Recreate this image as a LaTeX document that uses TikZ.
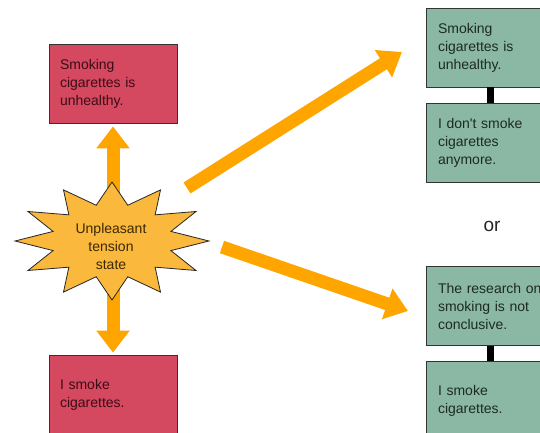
\documentclass[tikz,border=0pt]{standalone}
\usepackage{fontspec}
\newfontfamily\boxfont{Liberation Sans}
\usetikzlibrary{arrows.meta}
\definecolor{redbox}{RGB}{212,72,96}
\definecolor{redtext}{RGB}{60,12,22}
\definecolor{greenbox}{RGB}{138,184,164}
\definecolor{greentext}{RGB}{28,42,36}
\definecolor{arroworange}{RGB}{255,165,0}
\definecolor{starfill}{RGB}{250,184,60}
\definecolor{startext}{RGB}{58,40,5}
\begin{document}
\begin{tikzpicture}[x=1pt,y=-1pt,
  boxbase/.style={draw=black!80, line width=0.8pt, minimum width=128pt, minimum height=79pt,
    align=left, inner ysep=0pt, font=\boxfont\fontsize{14}{18}\selectfont},
  redstyle/.style={boxbase, fill=redbox, text=redtext, text width=106pt, inner xsep=11pt},
  greenstyle/.style={boxbase, fill=greenbox, text=greentext, text width=104pt, inner xsep=12pt},
  bigarrow/.style={draw=arroworange, line width=13pt, -{Triangle[length=22pt,width=31pt]}},
  bigdouble/.style={draw=arroworange, line width=13pt, {Triangle[length=22pt,width=32pt]}-{Triangle[length=22pt,width=32pt]}},
  linkbar/.style={draw=black, line width=7pt}]
\useasboundingbox (0,0) rectangle (540,433);
\clip (0,0) rectangle (540,433);
\fill[white] (0,0) rectangle (540,433);

% left column
\node[redstyle] (r1) at (113,83.5) {Smoking\\cigarettes is\\unhealthy.};
\node[redstyle] (r2) at (113,394.5) {I smoke\\cigarettes.};
\draw[bigdouble, shorten <=3pt, shorten >=2pt] (r1) -- (r2);

% star
\coordinate (star) at (112,241);
\draw[fill=starfill, draw=black!85, line width=0.8pt, shift={(112,241)}]
  (90:97 and 59) \foreach \i in {0,...,11} { -- ({90+\i*30+15}:61 and 37) -- ({90+\i*30+30}:97 and 59) } -- cycle;
\node[font=\boxfont\fontsize{14}{18}\selectfont, align=center, text=startext] (tension) at (111,246) {Unpleasant\\tension\\state};

% right column
\node[greenstyle] (g1) at (490,47.5) {Smoking\\cigarettes is\\unhealthy.};
\node[greenstyle] (g2) at (490,142.5) {I don't smoke\\cigarettes\\anymore.};
\node[greenstyle] (g3) at (490,306) {The research on\\smoking is not\\conclusive.};
\node[greenstyle] (g4) at (490,400.5) {I smoke\\cigarettes.};
\draw[linkbar] (g1) -- (g2);
\draw[linkbar] (g3) -- (g4);
\node[font=\boxfont\fontsize{19}{22}\selectfont, text=black!85] (or) at (492,226) {or};

% diagonal arrows
\coordinate (t1) at (187,188);
\coordinate (h1) at (402,52);
\coordinate (t2) at (222,247);
\coordinate (h2) at (408,311);
\draw[bigarrow] (t1) -- (h1);
\draw[bigarrow] (t2) -- (h2);
\end{tikzpicture}
\end{document}
